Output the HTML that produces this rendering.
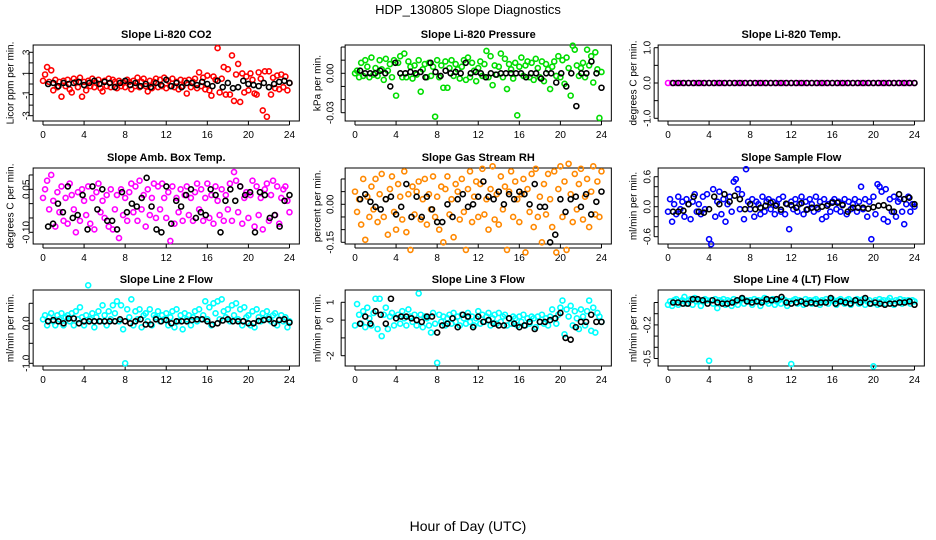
<!DOCTYPE html>
<html><head><meta charset="utf-8"><style>
html,body{margin:0;padding:0;background:#fff}
svg{display:block;font-family:"Liberation Sans",Arial,sans-serif}
</style></head><body>
<svg id="chart" width="936" height="540" viewBox="0 0 936 540">
<text x="468" y="14" text-anchor="middle" font-size="13">HDP_130805  Slope Diagnostics</text>
<text x="468" y="531" text-anchor="middle" font-size="14">Hour of Day (UTC)</text>
</svg>
<script>
const xTicks=[0,4,8,12,16,20,24];
const co2Vals=[0.3,0.9,1.6,0.2,1.3,-0.6,0.4,-0.3,0.2,-1.2,0.3,-0.2,0.4,-0.5,-0.8,0.5,0.2,-0.3,0.6,-1.2,0.2,-0.6,0.3,-0.2,0.5,-0.3,0.1,0.4,-0.4,-0.7,0.3,-0.2,0.5,-0.3,0.4,0.2,-0.4,0.3,-0.2,0.1,-0.3,0.4,0.2,-0.5,0.3,-0.2,0.6,-0.3,0.2,0.5,-0.2,-0.7,0.3,-0.4,0.2,0.5,-0.3,0.4,-0.2,0.6,-0.4,0.3,-0.2,0.5,-0.3,0.2,-0.5,0.4,-0.2,0.3,-0.9,0.4,-0.3,0.2,0.5,-0.4,1.1,-0.2,0.6,-0.5,0.8,-0.6,-1.1,0.7,0.4,3.4,-0.8,0.5,1.6,-1.0,1.4,-1.0,2.7,-1.6,0.9,1.9,-1.7,1.0,-0.8,0.7,-0.6,1.0,0.4,-0.9,-1.0,1.1,0.5,-2.5,1.2,-3.1,1.2,-1.0,0.6,-0.4,0.8,-0.5,0.9,-0.3,0.7,-0.6,0.1];
const co2Mean=[0,0.1,-0.2,0.1,0,0.1,0.2,-0.1,0.1,0.3,0,0.2,0.1,-0.3,0.1,0.3,-0.1,0.1,-0.2,0,-0.3,0.1,-0.1,0.4,-0.2,0.1,-0.3,0.1,0.1,-0.1,0.2,0,-0.2,0.3,-0.3,0.1,-0.4,-0.3,0.3,0,-0.1,-0.2,0.1,-0.3,0,0.2,0.3,0.1];
const presVals=[0,0.002,-0.003,0.008,-0.002,0.01,0.005,-0.003,0.012,-0.001,0.004,-0.002,0.01,0.003,-0.005,0.011,0.002,0.007,-0.003,0.01,-0.017,0.008,0.013,-0.003,0.015,-0.003,0.009,0.005,-0.004,0.006,-0.001,0.01,-0.014,0.003,0.007,-0.003,0.008,-0.002,0.005,-0.033,0.01,-0.003,0.006,-0.011,0.009,-0.011,0.004,0.01,-0.002,0.007,0.003,-0.004,0.005,0.01,-0.005,0.012,-0.003,0.008,0.002,-0.006,0.004,0.009,-0.002,0.007,0.017,-0.003,0.013,-0.009,0.006,-0.001,0.005,0.015,-0.003,0.011,-0.012,0.007,0.003,-0.004,0.008,-0.032,0.005,0.012,-0.002,0.006,0.009,-0.003,0.008,-0.005,0.011,0.004,-0.003,0.009,-0.006,0.007,0.003,-0.012,0.005,0.009,-0.002,0.013,-0.003,0.01,-0.008,0.012,0.004,-0.017,0.021,0.018,0.006,-0.002,0.004,0.008,-0.003,0.018,0.006,0.013,-0.007,0.016,0.003,-0.034,0.001];
const presMean=[0.002,0,0,0,0.002,0,-0.01,0.008,0,0,0.001,0,0.001,-0.003,0.008,0.001,-0.002,0.002,0,0.001,0,0.008,0,0.001,0,-0.003,0,-0.001,0,0,0,0,0,-0.003,0,0,-0.004,0,0,-0.007,0,-0.01,0,-0.025,0,0,0.009,0,-0.011];
const tempVals=[0,0,0,0,0,0,0,0,0,0,0,0,0,0,0,0,0,0,0,0,0,0,0,0,0,0,0,0,0,0,0,0,0,0,0,0,0,0,0,0,0,0,0,0,0,0,0,0,0,0,0,0,0,0,0,0,0,0,0,0,0];
const tempMean=[0,0,0,0,0,0,0,0,0,0,0,0,0,0,0,0,0,0,0,0,0,0,0,0,0,0,0,0,0,0,0,0,0,0,0,0,0,0,0,0,0,0,0,0,0,0,0,0];
const ambVals=[0.02,0.05,0.08,-0.02,0.1,0.01,-0.08,0.04,-0.03,0.06,-0.06,0.02,-0.07,0.07,0.03,-0.02,-0.1,0.04,-0.06,0.05,0.01,-0.04,0.06,-0.07,0.02,-0.09,0.04,0.07,-0.03,0.01,-0.05,0.03,-0.08,0.05,-0.09,-0.02,0.03,-0.12,0.05,-0.04,0.02,-0.06,0.04,0.07,-0.03,0.06,-0.06,0.08,-0.02,0.03,-0.08,0.05,-0.04,0.02,0.07,-0.05,0.06,-0.02,0.07,0.02,-0.05,0.04,-0.13,0.06,-0.07,0.02,-0.03,0.05,-0.06,0.03,0.06,-0.04,0.02,-0.06,0.04,0.07,-0.02,0.05,-0.06,0.02,0.07,-0.05,0.03,-0.07,0.06,0.01,-0.04,0.05,-0.06,0.03,-0.02,0.07,-0.06,0.11,0.08,-0.03,0.06,-0.07,0.02,0.04,-0.05,0.03,0.08,-0.08,0.06,-0.04,0.02,-0.09,0.05,0.07,-0.06,0.03,0.08,-0.04,0.06,-0.07,0.02,0.05,0.06,0.01,-0.03];
const ambMean=[-0.08,-0.07,0,-0.03,0.06,-0.05,-0.04,0.03,-0.09,0.06,-0.02,0.05,-0.06,-0.06,-0.09,0.04,-0.03,0,-0.01,0.02,0.09,-0.01,-0.09,-0.1,0.06,-0.07,0.01,-0.01,0.03,0.05,-0.05,-0.03,-0.04,0.05,0.03,-0.1,0.01,0.05,0.01,0.06,0.03,0.04,-0.1,0.04,0.03,-0.05,-0.04,-0.08,0.01,0.03];
const rhVals=[0.05,-0.03,0.02,-0.08,0.1,-0.14,0.03,-0.05,0.07,-0.02,0.1,-0.07,0.04,0.12,-0.05,0.02,-0.12,0.06,0.11,-0.03,-0.1,0.08,0.03,-0.06,0.13,-0.11,0.04,-0.18,0.07,-0.04,0.05,0.09,-0.06,0.02,0.1,-0.08,0.04,-0.02,0.11,-0.05,0.03,-0.1,0.07,-0.15,0.06,0.11,-0.04,0.02,-0.13,0.08,0.05,-0.06,0.1,-0.03,-0.18,0.06,0.13,-0.07,0.03,0.09,-0.05,0.08,0.14,-0.04,0.02,-0.1,0.06,0.15,-0.06,0.04,-0.08,0.11,-0.02,0.07,-0.18,0.05,0.13,-0.05,0.09,0.02,-0.07,0.04,0.1,-0.19,0.06,-0.03,0.12,-0.09,0.14,-0.05,0.03,-0.15,0.08,-0.04,0.12,0.02,-0.09,0.13,-0.19,0.06,0.15,-0.05,0.09,-0.18,0.16,0.04,-0.07,0.12,-0.02,0.08,0.14,-0.06,0.03,0.1,-0.09,0.05,0.15,-0.04,0.09,-0.05,0.13];
const rhMean=[0.02,0.04,0.01,-0.01,-0.02,0.02,0.03,-0.04,-0.01,0.08,-0.05,0.03,-0.05,0.03,-0.02,-0.07,-0.07,0,-0.05,0.02,0.04,-0.01,0,0.03,0.09,0.03,0.02,0.05,0,0.04,0.02,0.05,0.04,0,0.08,-0.01,-0.01,-0.15,-0.12,0.02,-0.03,0.02,0.03,-0.01,0.04,-0.04,0.01,0.05];
const sampVals=[-0.1,0.15,-0.3,0.05,-0.15,0.2,-0.05,0.1,-0.2,0.15,0.05,-0.25,0.1,0.25,-0.1,0.05,-0.15,0.2,-0.05,0.25,-0.65,-0.75,0.35,-0.2,0.1,0.3,-0.15,0.15,-0.3,0.05,0.2,-0.1,0.5,0.55,0.35,-0.05,0.25,-0.25,0.75,0.1,-0.05,0.15,-0.2,0.1,0.05,-0.15,0.2,-0.1,0.1,0.15,-0.05,0.1,-0.15,0.05,0.15,-0.1,0.2,-0.15,0.05,-0.45,0.1,-0.05,0.15,-0.1,0.05,0.2,-0.15,0.1,-0.05,0.15,0.05,-0.1,0.2,-0.05,0.1,-0.25,0.15,-0.2,0.05,-0.1,0.1,0.15,-0.05,0.1,-0.1,0.05,0.15,-0.15,0.1,-0.05,0.05,0.15,-0.1,0.1,0.4,-0.05,0.15,-0.2,0.1,-0.65,0.2,-0.15,0.45,0.4,0.3,-0.25,0.35,-0.3,0.15,-0.1,0.2,-0.2,0.1,0.15,-0.1,-0.35,0.05,0.2,-0.1,0.05,0];
const sampMean=[-0.1,-0.1,-0.08,0.05,0.2,-0.1,-0.12,-0.05,0.2,0.05,0.25,0.1,0.22,0.15,-0.05,0.05,-0.05,-0.02,0.02,0.08,0.02,-0.06,0.06,0.03,-0.02,0.07,-0.06,-0.02,-0.02,0,0.02,0.08,0.08,0.03,-0.1,-0.02,-0.02,-0.02,-0.04,-0.01,0.02,0.03,-0.02,-0.1,0.25,0.15,0.18,0.05];
const l2Vals=[0.1,0.2,-0.05,0.15,0.25,0.05,-0.05,0.2,0.1,0.25,-0.05,0.15,0.2,0.05,0.25,-0.05,0.3,0.1,0.4,0.15,-0.05,0.2,0.95,0.1,0.25,-0.1,0.15,0.3,0.05,0.45,0.2,-0.05,0.3,0.1,0.45,0.25,0.55,0.05,0.45,-0.15,-1.0,0.35,0.15,0.6,-0.05,0.3,0.1,0.35,-0.1,0.2,0.25,0.05,0.35,-0.05,0.2,0.15,0.3,0.05,0.2,0.1,0.25,-0.05,0.15,0.3,-0.1,0.35,0.05,0.2,-0.15,0.25,0.1,0.2,-0.05,0.15,0.3,0.05,0.35,0.1,0.2,0.55,0.1,0.4,-0.05,0.5,0.25,0.55,0.1,0.6,0.3,0.15,0.35,0.05,0.45,0.2,0.5,0.1,0.35,-0.05,0.4,0.15,0.2,-0.05,0.3,-0.1,0.35,0.15,0.05,0.25,0.1,0.3,0.15,0.05,0.2,0.25,-0.05,0.1,0.2,0.05,0.15,-0.1,0.05];
const l2Mean=[0.05,0.08,0.05,0,0.12,0.12,0,0.05,0.05,0.05,0.05,0.05,0.05,0.05,0.1,0.05,0,0.05,0.1,-0.03,-0.03,0.1,0.05,0.08,0,0.05,0.05,0.05,0.08,0.1,0.1,0.05,-0.03,0,0.07,0.1,0.05,0.05,0.05,0,0,0.06,0.08,0.1,0,0.08,0.1,0.02];
const l3Vals=[-0.3,0.9,0.3,-0.2,0.5,-0.4,0.7,0.1,-0.3,0.4,1.2,-0.5,1.2,-0.9,0.3,0.7,-0.5,0.2,0.4,-0.3,0.1,0.3,-0.2,0.5,0.1,-0.3,0.6,0.2,-0.1,0.3,-0.3,1.5,0.3,-0.4,0.2,0.1,-0.3,-0.7,0.4,-0.2,-2.4,0.3,-0.1,0.2,-0.3,0.1,0.3,-0.2,0.4,-0.1,0.2,-0.3,0.3,0.1,-0.2,0.4,-0.1,0.2,-0.3,0.1,0.5,-0.2,0.3,-0.1,0.2,0.4,-0.3,0.1,0.3,-0.2,0.4,-0.1,0.2,0.3,-0.3,0.1,-0.2,0.2,0.1,-0.3,0.2,-0.1,0.3,-0.3,0.1,-0.2,0.2,0.1,-0.4,0.2,-0.1,0.3,-0.2,0.1,-0.3,0.2,0.6,0.1,-0.2,0.3,0.7,1.1,-0.8,0.6,0.2,0.8,-0.3,0.5,0.1,-0.5,0.6,0.2,-0.3,0.5,1.1,-0.6,0.7,-0.7,0.4,0.2,-0.1];
const l3Mean=[-0.2,0.2,-0.2,0.5,0.3,-0.2,1.2,0.1,0.2,0.2,0.1,0,-0.1,0.2,0.2,-0.7,-0.3,-0.2,0.1,-0.4,0.3,0.2,-0.4,0.2,-0.1,0,-0.2,-0.3,-0.3,0.1,-0.2,-0.4,-0.3,-0.1,-0.5,-0.1,-0.1,0,0.1,0.4,-1.0,-1.1,-0.4,-0.1,-0.1,0.3,-0.1,-0.1];
const l4Vals=[-0.02,0.01,-0.03,0.02,0.03,-0.02,0.01,0.02,0.05,-0.01,0.02,0.03,-0.02,0.04,0.01,0.02,-0.03,0.01,0.03,0.02,-0.52,0.02,-0.01,0.03,-0.05,0.02,0.01,0.03,-0.02,0.02,0.01,-0.03,0.03,0.01,-0.02,0.02,0.03,-0.01,0.02,0.01,0.02,-0.02,0.03,0.01,0.02,-0.03,0.02,0.04,0.01,-0.01,0.02,0.03,-0.02,0.01,0.02,-0.01,0.03,0.02,-0.03,0.01,-0.55,0.02,0.03,-0.01,0.02,0.01,-0.02,0.03,0.01,0.02,-0.01,0.02,0.03,0.01,-0.02,0.02,0.01,0.03,-0.01,0.02,0.03,0.01,-0.02,0.02,0.03,0.01,-0.01,0.02,0.03,-0.02,0.01,0.02,0.03,-0.01,0.02,0.03,-0.02,0.01,0.02,-0.01,-0.57,0.02,-0.02,0.03,0.01,0.02,-0.01,0.02,0.04,0.01,-0.02,0.02,0.01,0.03,-0.01,0.02,0.01,0.02,-0.01,0.02,0.01];
const l4Mean=[0,0,-0.01,-0.01,0.03,0.03,0.02,-0.01,0.02,0,-0.01,-0.01,0,0.02,0.04,0.01,0,0.01,0,0.03,0.02,0.03,0.05,0,-0.01,0,0.01,-0.01,0,-0.01,0,0,0.04,-0.01,0.01,0,-0.01,0.02,0,0.04,-0.01,0,-0.01,-0.02,-0.01,-0.01,0,0,0.01,-0.02];

const NS='http://www.w3.org/2000/svg';
const svg=document.getElementById('chart');
function mk(tag,attrs,parent){const e=document.createElementNS(NS,tag);for(const k in attrs)e.setAttribute(k,attrs[k]);(parent||svg).appendChild(e);return e;}
const cols=[{x0:43,lab:27,tit:11},{x0:355,lab:331,tit:318},{x0:668,lab:648,tit:634}];
const rows=[{top:45,bot:121},{top:168,bot:244},{top:290,bot:366}];
const PPU=10.27;
const panels=[
 {name:'co2',title:'Slope Li-820 CO2',yl:'Licor ppm per min.',c:0,r:0,col:'#ff0000',vals:co2Vals,mean:co2Mean,v1:3,p1:52.3,v2:-3,p2:115.7,ticks:[-3,-2,-1,0,1,2,3],labels:[[3,'3'],[1,'1'],[-1,'-1'],[-3,'-3']]},
 {name:'pressure',title:'Slope Li-820 Pressure',yl:'kPa per min.',c:1,r:0,col:'#00dd00',vals:presVals,mean:presMean,v1:0,p1:73.3,v2:-0.03,p2:112.7,ticks:[0.02,0.01,0,-0.01,-0.02,-0.03],labels:[[0,'0.00'],[-0.03,'-0.03']]},
 {name:'temp',title:'Slope Li-820 Temp.',yl:'degrees C per min.',c:2,r:0,col:'#ff00ff',vals:tempVals,mean:tempMean,v1:1,p1:47.7,v2:-1,p2:118.3,ticks:[1,0.5,0,-0.5,-1],labels:[[1,'1.0'],[0,'0.0'],[-1,'-1.0']]},
 {name:'amb-temp',title:'Slope Amb. Box Temp.',yl:'degrees C per min.',c:0,r:1,col:'#ff00ff',vals:ambVals,mean:ambMean,v1:0.05,p1:189.3,v2:-0.1,p2:232.3,ticks:[0.1,0.05,0,-0.05,-0.1],labels:[[0.05,'0.05'],[-0.1,'-0.10']]},
 {name:'rh',title:'Slope Gas Stream RH',yl:'percent per min.',c:1,r:1,col:'#ff8800',vals:rhVals,mean:rhMean,v1:0,p1:204.3,v2:-0.15,p2:242.3,ticks:[0.1,0.05,0,-0.05,-0.1,-0.15],labels:[[0,'0.00'],[-0.15,'-0.15']]},
 {name:'sample-flow',title:'Slope Sample Flow',yl:'ml/min per min.',c:2,r:1,col:'#0000ff',vals:sampVals,mean:sampMean,v1:0.6,p1:176.7,v2:-0.6,p2:236.7,ticks:[0.6,0.4,0.2,0,-0.2,-0.4,-0.6],labels:[[0.6,'0.6'],[0,'0.0'],[-0.6,'-0.6']]},
 {name:'line2-flow',title:'Slope Line 2 Flow',yl:'ml/min per min.',c:0,r:2,col:'#00ffff',vals:l2Vals,mean:l2Mean,v1:0,p1:323.3,v2:-1,p2:363.3,ticks:[0.5,0,-0.5,-1],labels:[[0,'0.0'],[-1,'-1.0']]},
 {name:'line3-flow',title:'Slope Line 3 Flow',yl:'ml/min per min.',c:1,r:2,col:'#00ffff',vals:l3Vals,mean:l3Mean,v1:1,p1:302.3,v2:-2,p2:355.7,ticks:[1,0,-1,-2],labels:[[1,'1'],[0,'0'],[-2,'-2']]},
 {name:'line4-flow',title:'Slope Line 4 (LT) Flow',yl:'ml/min per min.',c:2,r:2,col:'#00ffff',vals:l4Vals,mean:l4Mean,v1:0,p1:302.5,v2:-0.5,p2:358.5,ticks:[0,-0.1,-0.2,-0.3,-0.4,-0.5],labels:[[-0.2,'-0.2'],[-0.5,'-0.5']]}
];
panels.forEach(p=>{
 const C=cols[p.c],R=rows[p.r];
 const xs=h=>C.x0+h*PPU;
 const ys=v=>p.p1+(v-p.v1)*(p.p2-p.p1)/(p.v2-p.v1);
 const g=mk('g',{});
 
 
 const left=xs(-0.96),right=xs(24.96);
 const box=mk('rect',{x:left,y:R.top,width:right-left,height:R.bot-R.top,fill:'none',stroke:'#000','stroke-width':1},g);
 
 
 const t=mk('text',{x:(left+right)/2,y:R.top-7,'text-anchor':'middle','font-size':11,'font-weight':'bold'},g);t.textContent=p.title;
 
 
 const yt=mk('text',{transform:`translate(${C.tit},${(R.top+R.bot)/2}) rotate(-90)`,'text-anchor':'middle','font-size':10,'dominant-baseline':'middle'},g);yt.textContent=p.yl;
 
 
 xTicks.forEach(h=>{
  mk('line',{x1:xs(h),x2:xs(h),y1:R.bot,y2:R.bot+4,stroke:'#000'},g);
  const tx=mk('text',{x:xs(h),y:R.bot+17,'text-anchor':'middle','font-size':10},g);tx.textContent=h;
  
  
 });
 mk('line',{x1:xs(0),x2:xs(24),y1:R.bot+4,y2:R.bot+4,stroke:'#000'},g);
 const tk=p.ticks.map(ys);
 mk('line',{x1:left-4,x2:left-4,y1:Math.min(...tk),y2:Math.max(...tk),stroke:'#000'},g);
 p.ticks.forEach(v=>mk('line',{x1:left-4,x2:left,y1:ys(v),y2:ys(v),stroke:'#000'},g));
 p.labels.forEach(([v,s])=>{
  const l=mk('text',{transform:`translate(${C.lab},${ys(v)}) rotate(-90)`,'text-anchor':'middle','font-size':10,'dominant-baseline':'middle'},g);l.textContent=s;
  
  
 });
 const n=p.vals.length;
 p.vals.forEach((v,i)=>{
  const c=mk('circle',{cx:xs(i*24/(n-1)),cy:ys(v),r:2.5,fill:'none',stroke:p.col,'stroke-width':1.6},g);
  
  
 });
 const m=p.mean.length;
 p.mean.forEach((v,i)=>{
  const c=mk('circle',{cx:xs(0.5+i*23.5/(m-1)),cy:ys(v),r:2.5,fill:'none',stroke:'#000','stroke-width':1.6},g);
  
  
 });
});
</script>
</body></html>
